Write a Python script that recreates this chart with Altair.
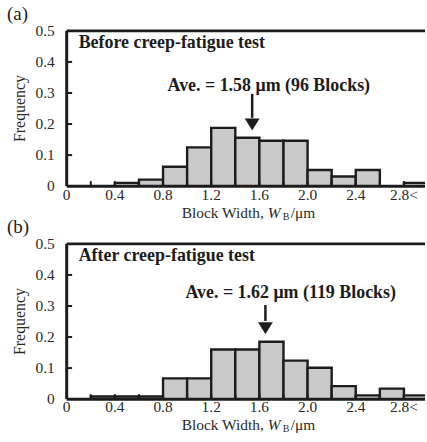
import altair as alt
import pandas as pd

# ---------------- data ----------------
bin_starts = [0.2, 0.4, 0.6, 0.8, 1.0, 1.2, 1.4, 1.6, 1.8, 2.0, 2.2, 2.4, 2.6, 2.8]
freq_before = [0.0, 0.0104, 0.021, 0.0625, 0.125, 0.1875, 0.156, 0.146, 0.146, 0.052, 0.031, 0.052, 0.0, 0.0104]
freq_after = [0.0084, 0.0084, 0.0084, 0.067, 0.067, 0.16, 0.16, 0.185, 0.124, 0.101, 0.042, 0.012, 0.034, 0.012]

x_label_values = [0, 0.4, 0.8, 1.2, 1.6, 2.0, 2.4, 2.8]
x_label_texts = ["0", "0.4", "0.8", "1.2", "1.6", "2.0", "2.4", "2.8<"]
x_tick_values = [0.2, 0.4, 0.6, 0.8, 1.0, 1.2, 1.4, 1.6, 1.8, 2.0, 2.2, 2.4, 2.6, 2.8]
y_label_values = [0, 0.1, 0.2, 0.3, 0.4, 0.5]
y_label_texts = ["0", "0.1", "0.2", "0.3", "0.4", "0.5"]
y_tick_values = [0.1, 0.2, 0.3, 0.4]

panel_letters = ["(a)", "(b)"]
panel_titles = ["Before creep-fatigue test", "After creep-fatigue test"]
ave_texts = ["Ave. = 1.58 \u03bcm (96 Blocks)", "Ave. = 1.62 \u03bcm (119 Blocks)"]
y_title = "Frequency"

X_MAX = 2.975
W, H = 360, 156
SERIF = "Liberation Serif"
FILL = "#c9c9c9"
INK = "#1c1c1c"
TXT = "#2a2a2a"
LBL = 15.5


def panel(freqs, letter, title_text, ave_text, ave_x, ave_y,
          arrow_x, arrow_top, arrow_base, arrow_tip, xlab_dy, xtitle_y):
    df = pd.DataFrame({"start": bin_starts,
                       "end": [s + 0.2 for s in bin_starts],
                       "freq": freqs})
    df = df[df["freq"] > 0]
    xs = alt.Scale(domain=[0, X_MAX], nice=False, zero=False)
    ys = alt.Scale(domain=[0, 0.5], nice=False)

    def X(f):
        return alt.X(f, scale=xs, axis=None)

    def Y(f):
        return alt.Y(f, scale=ys, axis=None)

    bars = alt.Chart(df).mark_bar(fill=FILL, stroke=INK, strokeWidth=2.4, clip=True).encode(
        x=X("start:Q"), x2="end:Q", y=Y("freq:Q"), y2=alt.datum(0))

    xt = pd.DataFrame({"v": x_tick_values})
    xticks = alt.Chart(xt).mark_rule(color=INK, strokeWidth=2).encode(
        x=X("v:Q"), y=alt.datum(0, scale=ys, axis=None), y2=alt.datum(0.016))
    yt = pd.DataFrame({"v": y_tick_values})
    yticks = alt.Chart(yt).mark_rule(color=INK, strokeWidth=2).encode(
        y=Y("v:Q"), x=alt.datum(0, scale=xs, axis=None), x2=alt.datum(0.045))

    frame = pd.DataFrame({"x0": [0.0], "x1": [X_MAX], "y0": [0.0], "y1": [0.5]})
    xdomain = alt.Chart(frame).mark_rule(color=INK, strokeWidth=3).encode(
        x=X("x0:Q"), x2="x1:Q", y=Y("y0:Q"))
    ydomain = alt.Chart(frame).mark_rule(color=INK, strokeWidth=3).encode(
        x=X("x0:Q"), y=Y("y0:Q"), y2="y1:Q")
    top = alt.Chart(frame).mark_rule(color=INK, strokeWidth=3).encode(
        x=X("x0:Q"), x2="x1:Q", y=Y("y1:Q"))

    xl = pd.DataFrame({"v": x_label_values, "t": x_label_texts})
    xlabels = alt.Chart(xl).mark_text(
        font=SERIF, fontSize=LBL, align="center", baseline="middle", color=TXT
    ).encode(x=X("v:Q"), y=alt.value(H + xlab_dy), text="t:N")
    yl = pd.DataFrame({"v": y_label_values, "t": y_label_texts})
    ylabels = alt.Chart(yl).mark_text(
        font=SERIF, fontSize=LBL, align="right", baseline="middle", color=TXT
    ).encode(y=Y("v:Q"), x=alt.value(-12), text="t:N")
    ytitle = alt.Chart(pd.DataFrame({"t": [y_title]})).mark_text(
        font=SERIF, fontSize=16, align="center", baseline="middle", angle=270, color=TXT
    ).encode(text="t:N", x=alt.value(-47), y=alt.value(H / 2))

    label = alt.Chart(pd.DataFrame({"t": [title_text]})).mark_text(
        font=SERIF, fontSize=18, fontWeight="bold", align="left", baseline="middle", color=INK
    ).encode(text="t:N", x=alt.value(12), y=alt.value(12))

    ave = alt.Chart(pd.DataFrame({"t": [ave_text], "x": [ave_x], "y": [ave_y]})).mark_text(
        font=SERIF, fontSize=18, fontWeight="bold", align="center", baseline="middle", color=INK
    ).encode(text="t:N", x=X("x:Q"), y=Y("y:Q"))

    shaft = alt.Chart(pd.DataFrame({"x": [arrow_x], "y": [arrow_top], "y2": [arrow_base]})).mark_rule(
        color=INK, strokeWidth=2.5).encode(x=X("x:Q"), y=Y("y:Q"), y2="y2:Q")
    head = alt.Chart(pd.DataFrame({"x": [arrow_x], "y": [(arrow_base + arrow_tip) / 2]})).mark_point(
        shape="M-1,-0.8L1,-0.8L0,0.8Z", filled=True, fill=INK, stroke=INK, strokeWidth=0.5,
        size=200, opacity=1
    ).encode(x=X("x:Q"), y=Y("y:Q"))

    letter_t = alt.Chart(pd.DataFrame({"t": [letter]})).mark_text(
        font=SERIF, fontSize=19, align="left", baseline="middle", color=INK
    ).encode(text="t:N", x=alt.value(-60), y=alt.value(-17))

    px = 202
    xt1 = alt.Chart(pd.DataFrame({"t": ["Block Width,"]})).mark_text(
        font=SERIF, fontSize=LBL, align="right", baseline="middle", color=TXT
    ).encode(text="t:N", x=alt.value(px - 4), y=alt.value(xtitle_y))
    xt2 = alt.Chart(pd.DataFrame({"t": ["W"]})).mark_text(
        font=SERIF, fontSize=LBL, fontStyle="italic", align="left", baseline="middle", color=TXT
    ).encode(text="t:N", x=alt.value(px), y=alt.value(xtitle_y))
    xt3 = alt.Chart(pd.DataFrame({"t": ["B"]})).mark_text(
        font=SERIF, fontSize=10, align="left", baseline="middle", color=TXT
    ).encode(text="t:N", x=alt.value(px + 15), y=alt.value(xtitle_y + 4))
    xt4 = alt.Chart(pd.DataFrame({"t": ["/\u03bcm"]})).mark_text(
        font=SERIF, fontSize=LBL, align="left", baseline="middle", color=TXT
    ).encode(text="t:N", x=alt.value(px + 23), y=alt.value(xtitle_y))

    return alt.layer(bars, xticks, yticks, xdomain, ydomain, top, xlabels, ylabels, ytitle,
                     label, ave, shaft, head, letter_t, xt1, xt2, xt3, xt4).properties(width=W, height=H)


pa = panel(freq_before, panel_letters[0], panel_titles[0], ave_texts[0], 1.678, 0.323,
           1.54, 0.297, 0.22, 0.178, 9, 183)
pb = panel(freq_after, panel_letters[1], panel_titles[1], ave_texts[1], 1.86, 0.342,
           1.65, 0.303, 0.252, 0.206, 8, 182)

chart = alt.vconcat(pa, pb, spacing=-4).properties(
    padding={"left": 7, "top": 4, "right": 0, "bottom": 0}
).configure(background="white").configure_view(stroke=None)

chart.save("out.html", embed_options={"renderer": "svg", "actions": False})
